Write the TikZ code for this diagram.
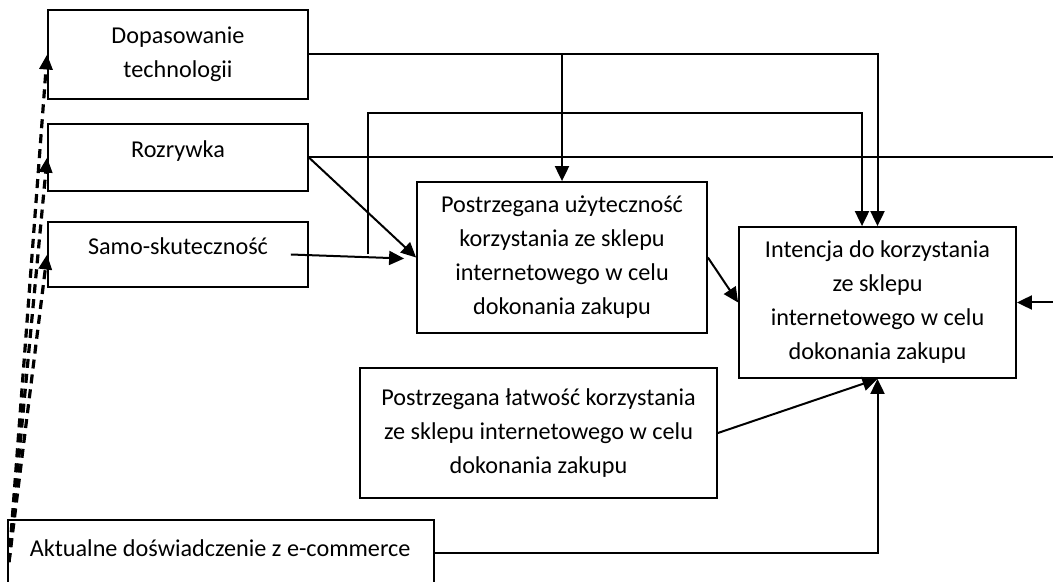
\documentclass[tikz,border=0pt]{standalone}
\usepackage{fontspec}
\setmainfont{Carlito}
\usetikzlibrary{arrows.meta}
\tikzset{
  box/.style={draw, line width=0.9pt, inner sep=0pt, align=center, font=\fontsize{12.1}{17}\selectfont},
  link/.style={line width=1pt},
  arr/.style={line width=1pt, -{Triangle[length=7.5pt,width=7pt]}},
  dasharr/.style={line width=1.6pt, dash pattern=on 4.5pt off 3pt, -{Triangle[length=7.5pt,width=6.5pt]}}
}
\begin{document}
\begin{tikzpicture}[x=0.5pt,y=-0.5pt]
    \useasboundingbox (0,0) rectangle (1053,582);
    \clip (0,0) rectangle (1053,582);

    % Factors on the left
    \node[box, minimum width=130pt, minimum height=44.5pt] (dop) at (178,54.5) {Dopasowanie\\technologii};
    \node[box, minimum width=130pt, minimum height=33.5pt, text height=8pt, text depth=8pt] (roz) at (178,157.5) {Rozrywka};
    \node[box, minimum width=130pt, minimum height=32.5pt, text height=8pt, text depth=8pt] (samo) at (178,254.5) {Samo-skuteczność};

    % Perceived usefulness and ease of use
    \node[box, minimum width=145pt, minimum height=75.5pt] (uzy) at (562,257.5) {Postrzegana użyteczność\\korzystania ze sklepu\\internetowego w celu\\dokonania zakupu};
    \node[box, minimum width=178.5pt, minimum height=65pt] (lat) at (538.5,433) {Postrzegana łatwość korzystania\\ze sklepu internetowego w celu\\dokonania zakupu};

    % Intention
    \node[box, minimum width=138.5pt, minimum height=75.5pt] (int) at (877.5,302.5) {Intencja do korzystania\\ze sklepu\\internetowego w celu\\dokonania zakupu};

    % Experience
    \node[box, anchor=north west, align=flush left, text width=191pt, inner xsep=11pt, text height=18.5pt, text depth=22pt] (akt) at (7,519) {Aktualne doświadczenie z e-commerce};

    \coordinate (dsrc) at (9,562);
    \coordinate (sbr) at (368,254.5);
    \coordinate (stop) at (862,113);
    \coordinate (redge) at (1053,157.5);
    \coordinate (rback) at (1053,302.5);

    % Dopasowanie technologii
    \draw[arr] (dop.east) -| (int.north);
    \draw[arr] (uzy.north |- dop.east) -- (uzy.north);

    % Rozrywka
    \draw[link] (roz.east) -- (redge);
    \draw[arr] (rback) -- (int.east);
    \draw[arr] (roz.east) -- (uzy.west);

    % Samo-skutecznosc
    \draw[arr] ([xshift=-9pt]samo.east) -- ([xshift=-6pt,yshift=-0.5pt]uzy.west);
    \draw[arr] (sbr) |- (stop) -- (stop |- int.north);

    % Into the intention
    \draw[arr] (uzy.east) -- (int.west);
    \draw[arr] (lat.east) -- (int.south);
    \draw[arr] ([yshift=2pt]akt.base east) -| (int.south);

    % Dashed links from experience
    \foreach \t in {dop, roz, samo}
        \draw[dasharr] (dsrc) -- (\t.west);
\end{tikzpicture}
\end{document}
